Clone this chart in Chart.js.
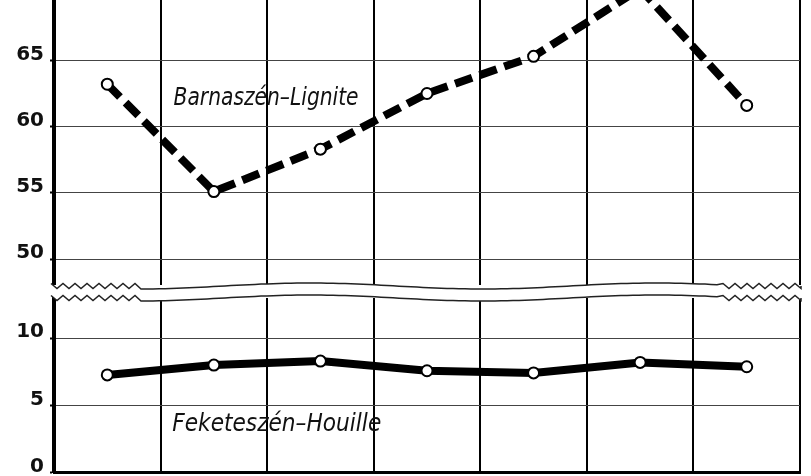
<!DOCTYPE html>
<html>
<head>
<meta charset="utf-8">
<script src="https://cdn.jsdelivr.net/npm/chart.js@4/dist/chart.umd.min.js"></script>
<style>
  html, body { margin: 0; padding: 0; background: #fff; overflow: hidden; }
  #top { position: absolute; left: 0; top: -8px; width: 811px; height: 300px; }
  #bot { position: absolute; left: 0; top: 290px; width: 811px; height: 190px; }
</style>
</head>
<body>
<div id="top"><canvas id="cTop"></canvas></div>
<div id="bot"><canvas id="cBot"></canvas></div>
<script>
// columns (labels not visible on the cropped original)
const categories = ['I', 'II', 'III', 'IV', 'V', 'VI', 'VII'];
// Barnaszén – Lignite (upper panel)
const lignite = [63.2, 55.1, 58.3, 62.5, 65.3, 70.4, 61.6];
// Feketeszén – Houille (lower panel)
const houille = [7.27, 8.0, 8.3, 7.58, 7.42, 8.2, 7.88];
// tick labels of the broken axis
const topTicks = [50, 55, 60, 65];
const bottomTicks = [0, 5, 10];

Chart.defaults.font.family = '"DejaVu Sans", sans-serif';
Chart.defaults.color = '#111';

// wavy break line
function wavePoints(left, right, base) {
  const pts = [];
  for (let x = left, i = 0; x <= right; x += 6, i++) {
    let y;
    if (x < left + 85 || x > right - 80) {
      y = base + (i % 2 ? 2.5 : -2.5);
    } else {
      y = base + 3 * Math.sin((x - left) / 55);
    }
    pts.push([x, y]);
  }
  pts.push([right, base]);
  return pts;
}

function breakPlugin(base, side) {
  return {
    id: 'break' + side,
    afterDraw(chart) {
      const ctx = chart.ctx;
      const a = chart.chartArea;
      const pts = wavePoints(a.left - 3, a.right + 1, base);
      const edge = side === 'bottom' ? chart.height : 0;
      ctx.save();
      ctx.beginPath();
      ctx.moveTo(pts[0][0], edge);
      pts.forEach(p => ctx.lineTo(p[0], p[1]));
      ctx.lineTo(pts[pts.length - 1][0] + 3, edge);
      ctx.closePath();
      ctx.fillStyle = '#fff';
      ctx.fill();
      ctx.beginPath();
      pts.forEach((p, i) => i ? ctx.lineTo(p[0], p[1]) : ctx.moveTo(p[0], p[1]));
      ctx.strokeStyle = '#222';
      ctx.lineWidth = 1.5;
      ctx.stroke();
      ctx.restore();
    }
  };
}

function notePlugin(text, xv, yv, width) {
  return {
    id: 'note',
    afterDatasetsDraw(chart) {
      const ctx = chart.ctx;
      const x = chart.scales.x.getPixelForValue(xv);
      const y = chart.scales.y.getPixelForValue(yv);
      ctx.save();
      ctx.font = 'italic 24px "DejaVu Sans"';
      const w = ctx.measureText(text).width;
      ctx.translate(x, y);
      ctx.scale(width / w, 1);
      ctx.textAlign = 'center';
      ctx.textBaseline = 'alphabetic';
      ctx.fillStyle = '#111';
      ctx.fillText(text, 0, 0);
      ctx.restore();
    }
  };
}

function yScale(min, max, ticks) {
  return {
    min: min,
    max: max,
    afterBuildTicks: s => { s.ticks = ticks.map(v => ({ value: v })); },
    afterFit: s => { s.width = 54; s.paddingTop = 0; s.paddingBottom = 0; },
    ticks: {
      font: { size: 20, weight: 'bold' },
      color: '#111',
      padding: 6,
      labelOffset: -6
    },
    grid: { color: '#444', lineWidth: 1, tickLength: 4, tickColor: '#000', tickWidth: 2 },
    border: { display: true, color: '#000', width: 4 }
  };
}

function xScale(showBorder) {
  return {
    offset: true,
    afterFit: s => { s.height = 0; },
    ticks: { display: false },
    grid: { offset: true, color: '#000', lineWidth: 2, drawTicks: false },
    border: { display: showBorder, color: '#000', width: 3 }
  };
}

const pointStyle = {
  pointRadius: 5.5,
  pointBackgroundColor: '#fff',
  pointBorderColor: '#000',
  pointBorderWidth: 2
};

new Chart(document.getElementById('cTop'), {
  type: 'line',
  data: {
    labels: categories,
    datasets: [Object.assign({
      label: 'Barnaszén–Lignite',
      data: lignite,
      borderColor: '#000',
      borderWidth: 8,
      borderDash: [18, 8],
      borderCapStyle: 'butt',
      tension: 0
    }, pointStyle)]
  },
  options: {
    animation: false,
    responsive: true,
    maintainAspectRatio: false,
    layout: { padding: { top: 0, right: 11, bottom: 4, left: 0 } },
    plugins: { legend: { display: false }, tooltip: { enabled: false } },
    scales: { x: xScale(false), y: yScale(48.09, 69.59, topTicks) }
  },
  plugins: [notePlugin('Barnaszén–Lignite', 1.49, 61.6, 185), breakPlugin(294, 'bottom')]
});

new Chart(document.getElementById('cBot'), {
  type: 'line',
  data: {
    labels: categories,
    datasets: [Object.assign({
      label: 'Feketeszén–Houille',
      data: houille,
      borderColor: '#000',
      borderWidth: 8,
      tension: 0
    }, pointStyle)]
  },
  options: {
    animation: false,
    responsive: true,
    maintainAspectRatio: false,
    layout: { padding: { top: 8, right: 11, bottom: 0, left: 0 } },
    plugins: { legend: { display: false }, tooltip: { enabled: false } },
    scales: { x: xScale(true), y: yScale(0, 13, bottomTicks) }
  },
  plugins: [notePlugin('Feketeszén–Houille', 1.59, 3.1, 209), breakPlugin(8, 'top')]
});
</script>
</body>
</html>
